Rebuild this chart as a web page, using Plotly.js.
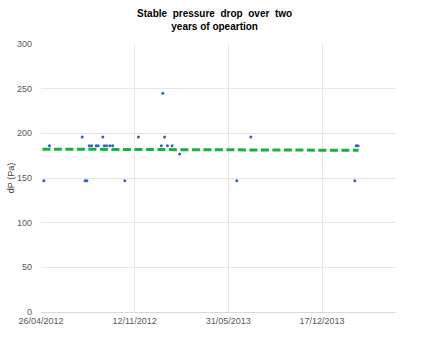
<!DOCTYPE html>
<html>
<head>
<meta charset="utf-8">
<script src="https://cdn.plot.ly/plotly-3.0.1.min.js"></script>
<style>html,body{margin:0;padding:0;background:#fff;}#chart{width:425px;height:354px;}</style>
</head>
<body>
<div id="chart"></div>
<script>
const dates = [
  "2012-05-02","2012-05-14","2012-07-23","2012-07-29","2012-08-02",
  "2012-08-07","2012-08-12","2012-08-22","2012-08-26","2012-09-05",
  "2012-09-08","2012-09-13","2012-09-20","2012-09-26","2012-10-22",
  "2012-11-20","2013-01-08","2013-01-11","2013-01-15","2013-01-21",
  "2013-01-31","2013-02-16","2013-06-18","2013-07-18","2014-02-25",
  "2014-02-28","2014-03-04"
];
const dP = [
  147,186,196,147,147,
  186,186,186,186,196,
  186,186,186,186,147,
  196,186,245,196,186,
  186,177,147,196,147,
  186,186
];
const trendDates = ["2012-04-29","2014-03-05"];
const trendValues = [182.3,181.0];
const xTicks = ["2012-04-26","2012-11-12","2013-05-31","2013-12-17"];
const xTickLabels = ["26/04/2012","12/11/2012","31/05/2013","17/12/2013"];
const yTicks = [0,50,100,150,200,250,300];

const traces = [
  {
    x: trendDates, y: trendValues, type: "scatter", mode: "lines",
    line: {color: "#14B33A", width: 3, dash: "8px,3.5px"},
    hoverinfo: "skip", showlegend: false
  },
  {
    x: dates, y: dP, type: "scatter", mode: "markers",
    marker: {color: "#2F62C2", size: 3, symbol: "circle"},
    showlegend: false
  }
];

const layout = {
  width: 425, height: 354,
  margin: {l: 41, r: 29, t: 44, b: 42, pad: 0},
  paper_bgcolor: "#ffffff", plot_bgcolor: "#ffffff",
  title: {
    text: "<b>Stable\u00A0\u00A0pressure\u00A0\u00A0drop\u00A0\u00A0over\u00A0\u00A0two<br>years\u00A0of\u00A0opeartion</b>",
    font: {family: "Liberation Sans, Arial, sans-serif", size: 10, color: "#000000"},
    x: 0.505, xanchor: "center", y: 0.953, yanchor: "top"
  },
  xaxis: {
    type: "date",
    range: ["2012-04-26", "2014-05-24"],
    tickmode: "array", tickvals: xTicks, ticktext: xTickLabels,
    showgrid: true, gridcolor: "#e6e6e6", gridwidth: 1,
    zeroline: false, showline: true, linecolor: "#d9d9d9", linewidth: 1,
    ticks: "", tickfont: {family: "Liberation Sans, Arial, sans-serif", size: 9, color: "#595959"},
    fixedrange: true
  },
  yaxis: {
    range: [0, 300],
    tickmode: "array", tickvals: yTicks,
    showgrid: true, gridcolor: "#e6e6e6", gridwidth: 1,
    zeroline: false, showline: false,
    ticks: "", ticklabelstandoff: 8,
    tickfont: {family: "Liberation Sans, Arial, sans-serif", size: 9, color: "#595959"},
    title: {text: "dP (Pa)", font: {family: "Liberation Sans, Arial, sans-serif", size: 9, color: "#404040"}, standoff: 0},
    fixedrange: true
  },
  showlegend: false
};

Plotly.newPlot("chart", traces, layout, {displayModeBar: false, staticPlot: true});
</script>
</body>
</html>
